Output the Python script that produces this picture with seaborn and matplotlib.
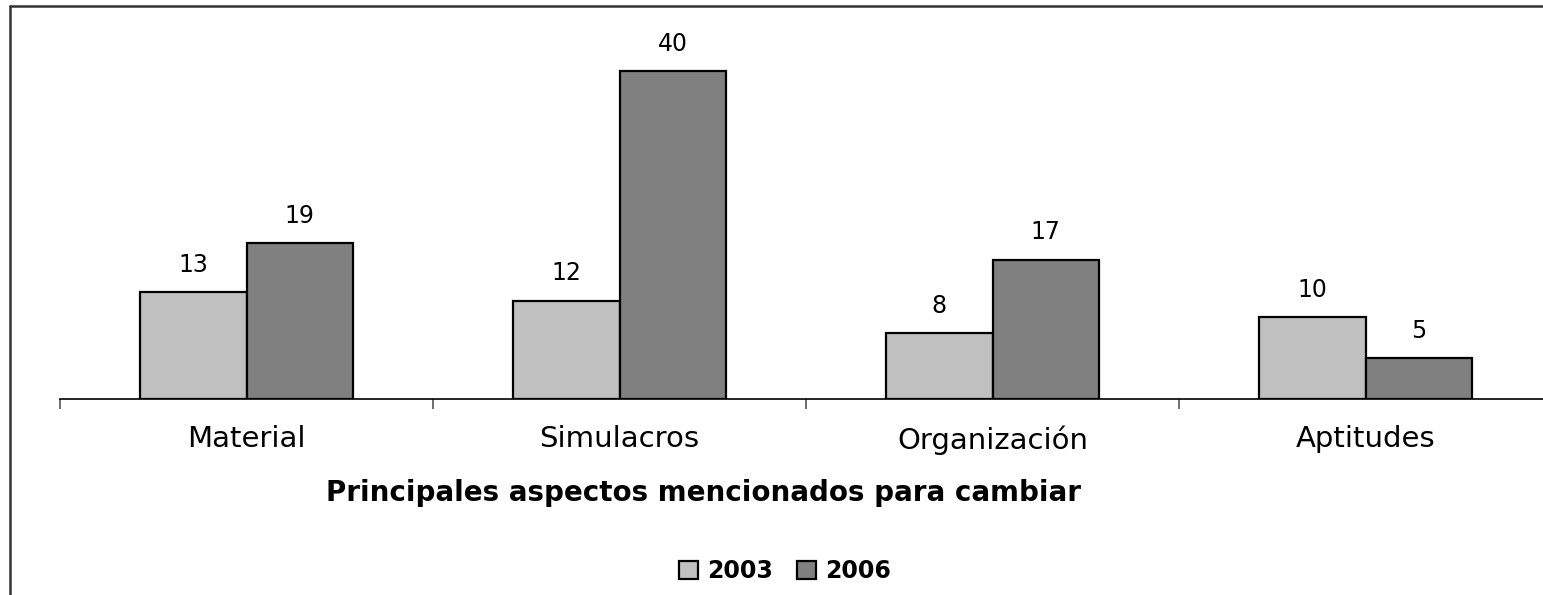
import matplotlib
matplotlib.use("Agg")
import matplotlib.pyplot as plt
import seaborn as sns
import pandas as pd
from matplotlib.lines import Line2D

categories = ["Material", "Simulacros", "Organización", "Aptitudes"]
values_2003 = [13, 12, 8, 10]
values_2006 = [19, 40, 17, 5]
years = ["2003", "2006"]
colors = ["#C0C0C0", "#808080"]
xlabel = "Principales aspectos mencionados para cambiar"

df = pd.DataFrame({
    "categoria": categories * 2,
    "valor": values_2003 + values_2006,
    "año": [years[0]] * len(categories) + [years[1]] * len(categories),
})

sns.set_theme(style="white")
plt.rcParams["font.family"] = ["DejaVu Sans"]
plt.rcParams["text.color"] = "black"
plt.rcParams["xtick.color"] = "black"
plt.rcParams["axes.labelcolor"] = "black"

W, H = 1543, 595
fig = plt.figure(figsize=(W / 100, H / 100), dpi=100)
ax = fig.add_axes([60 / W, 1 - 399 / H, (1552 - 60) / W, (399 - 30) / H])

sns.barplot(data=df, x="categoria", y="valor", hue="año", order=categories,
            hue_order=years, palette=colors, width=0.57, edgecolor="black",
            linewidth=1.6, saturation=1, ax=ax, legend=True)

ax.set_ylim(0, 369 / 8.2)
ax.set_xlim(-0.5, 3.5)
for c in ax.containers:
    ax.bar_label(c, padding=11, fontsize=17, color="black")

for s in ["top", "left", "right"]:
    ax.spines[s].set_visible(False)
ax.spines["bottom"].set_color("black")
ax.spines["bottom"].set_linewidth(1.2)
ax.set_yticks([])
ax.set_ylabel("")
ax.set_xlabel("")
ax.set_xticks(range(len(categories)))
ax.set_xticklabels(categories, fontsize=21, color="black")
ax.set_xticks([-0.5, 0.5, 1.5, 2.5, 3.5], minor=True)
ax.tick_params(axis="x", which="major", length=0, pad=19)
ax.tick_params(axis="x", which="minor", length=7, width=1.2, color="#555555",
               direction="out", bottom=True)

fig.text(703 / W, 1 - 493 / H, xlabel, fontsize=20, fontweight="bold",
         ha="center", va="center", color="black")

handles, labels = ax.get_legend_handles_labels()
ax.get_legend().remove()
fig.legend(handles, labels, loc="center", bbox_to_anchor=(785 / W, 1 - 571 / H),
           ncol=2, frameon=False, prop={"size": 17, "weight": "bold"},
           handlelength=0.8, handleheight=0.8, handletextpad=0.4,
           columnspacing=1.0)

fig.add_artist(Line2D([10 / W, 1], [1 - 6 / H, 1 - 6 / H], color="#333333",
                      lw=1.8, transform=fig.transFigure))
fig.add_artist(Line2D([10 / W, 10 / W], [1 - 6 / H, 0], color="#333333",
                      lw=1.8, transform=fig.transFigure))

fig.savefig("out.png", dpi=100)
